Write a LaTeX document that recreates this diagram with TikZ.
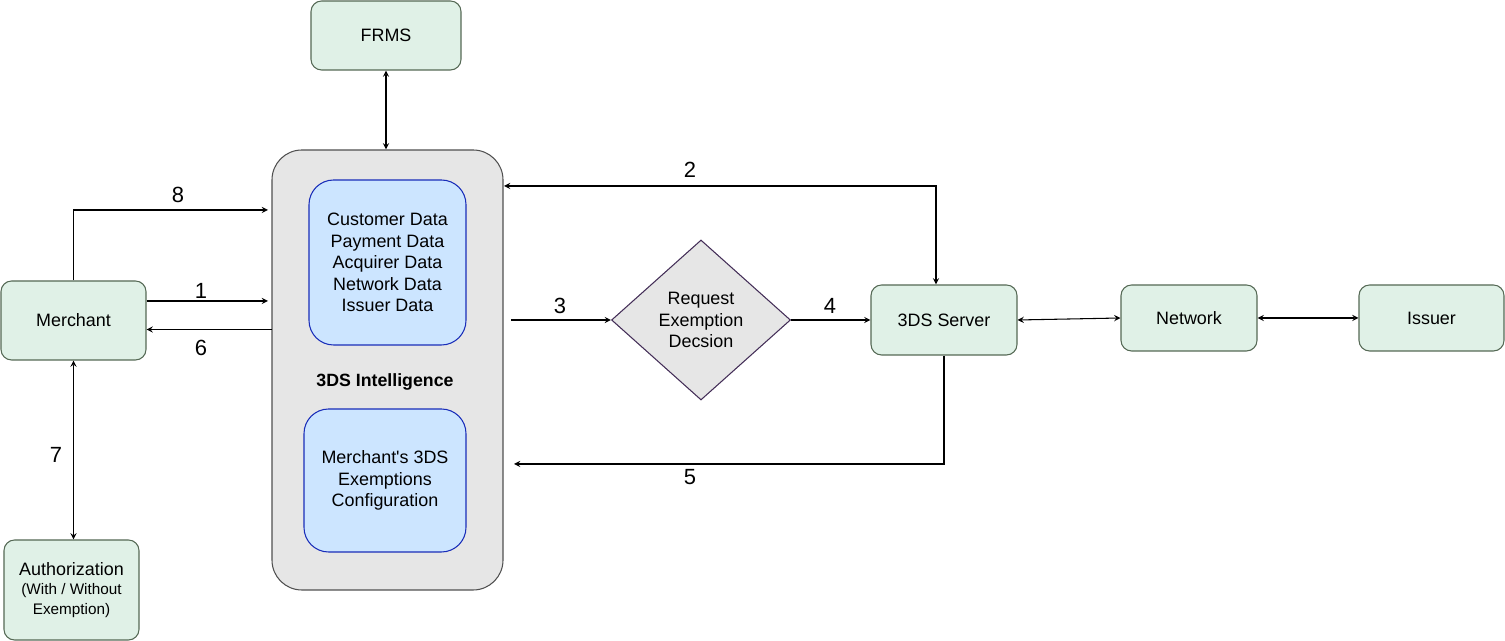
\documentclass[tikz,border=0pt]{standalone}
\usepackage{fontspec}
\setmainfont{Liberation Sans}
\usetikzlibrary{shapes.geometric}

\definecolor{mintfill}{RGB}{224,241,231}
\definecolor{mintline}{RGB}{85,105,85}
\definecolor{skyfill}{RGB}{204,229,255}
\definecolor{skyline}{RGB}{25,45,185}
\definecolor{greyfill}{RGB}{230,230,230}
\definecolor{greyline}{RGB}{80,80,80}
\definecolor{plumline}{RGB}{67,45,87}

\begin{document}
\begin{tikzpicture}[
  box/.style={draw=mintline, fill=mintfill, rounded corners=6pt, line width=0.6pt,
              align=center, inner sep=2pt, font=\fontsize{10.2}{12.3}\selectfont},
  databox/.style={draw=skyline, fill=skyfill, rounded corners=14pt, line width=0.6pt,
                  align=center, inner sep=2pt, font=\fontsize{10.2}{12.3}\selectfont},
  decision/.style={diamond, draw=plumline, fill=greyfill, line width=0.6pt, inner sep=0pt,
                   minimum width=3.58cm, minimum height=3.2cm, align=center,
                   font=\fontsize{10.2}{12.3}\selectfont},
  numlabel/.style={font=\fontsize{12.5}{14}\selectfont},
  arrow/.style={->, >=stealth, line width=0.6pt},
  twoway/.style={<->, >=stealth, line width=0.6pt},
]

\useasboundingbox (0,0) rectangle (30.1,12.82);

% Central engine
\node[draw=greyline, fill=greyfill, rounded corners=17pt, line width=0.6pt,
      minimum width=4.62cm, minimum height=8.8cm] (intel) at (7.75, 5.42) {};
\node[databox, minimum width=3.14cm, minimum height=3.3cm] (data) at (7.75, 7.57)
  {Customer Data\\Payment Data\\Acquirer Data\\Network Data\\Issuer Data};
\node[font=\fontsize{10.1}{11.5}\selectfont\bfseries] (intel_lbl) at (7.7, 5.18) {3DS Intelligence};
\node[databox, minimum width=3.24cm, minimum height=2.86cm] (config) at (7.7, 3.21)
  {Merchant\textquotesingle s 3DS\\Exemptions\\Configuration};

% FRMS on top
\node[box, minimum width=3.0cm, minimum height=1.38cm] (frms) at (7.72, 12.11) {FRMS};
\draw[twoway] (frms.south) -- (frms.south |- intel.north);

% === Merchant side (left) ===
\node[box, minimum width=2.9cm, minimum height=1.58cm] (merchant) at (1.47, 6.41) {Merchant};
\node[box, minimum width=2.7cm, minimum height=2.0cm] (auth) at (1.43, 1.02)
  {Authorization\\[-1pt]{\fontsize{8.7}{10.4}\selectfont (With / Without}\\[-1pt]{\fontsize{8.7}{10.4}\selectfont Exemption)}};

\coordinate (in8) at (5.36, 8.62);
\coordinate (in1) at (5.36, 6.80);
\coordinate (out6) at (5.44, 6.23);

\draw[arrow] (merchant.north) |- (in8);
\node[numlabel] (n8) at (3.56, 8.92) {8};
\draw[arrow] (merchant.east |- in1) -- (in1);
\node[numlabel] (n1) at (4.02, 7.00) {1};
\draw[arrow] (out6) -- (merchant.east |- out6);
\node[numlabel] (n6) at (4.02, 5.86) {6};
\draw[twoway] (merchant.south) -- (merchant.south |- auth.north);
\node[numlabel] (n7) at (1.12, 3.72) {7};

% === Decision and servers (right) ===
\node[decision] (decide) at (14.02, 6.42) {Request\\Exemption\\Decsion};
\node[box, minimum width=2.92cm, minimum height=1.4cm] (server) at (18.88, 6.42) {3DS Server};
\node[box, minimum width=2.72cm, minimum height=1.32cm] (network) at (23.78, 6.46) {Network};
\node[box, minimum width=2.9cm, minimum height=1.32cm] (issuer) at (28.63, 6.46) {Issuer};

\coordinate (in2) at (10.08, 9.10);
\coordinate (out3) at (10.22, 6.42);
\coordinate (in5) at (10.28, 3.54);

\draw[twoway] (in2) -| ([xshift=-1.6mm]server.north);
\node[numlabel] (n2) at (13.8, 9.42) {2};
\draw[arrow] (out3) -- (decide.west);
\node[numlabel] (n3) at (11.2, 6.70) {3};
\draw[arrow] (decide.east) -- (server.west);
\node[numlabel] (n4) at (16.6, 6.70) {4};
\draw[arrow] (server.south) |- (in5);
\node[numlabel] (n5) at (13.8, 3.28) {5};

\draw[twoway] (server.east) -- (network.west);
\draw[twoway] (network.east) -- (issuer.west);

\end{tikzpicture}
\end{document}
